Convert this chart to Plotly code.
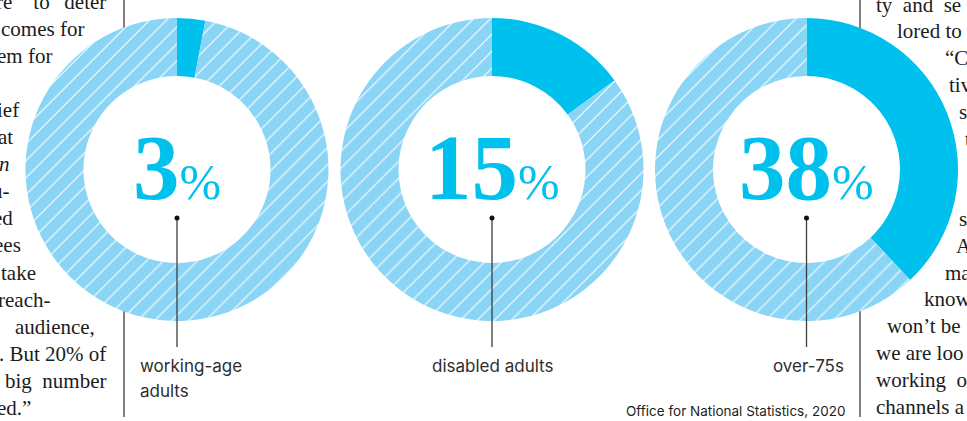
import math
import plotly.graph_objects as go

# ---- data -----------------------------------------------------------------
groups = ["working-age adults", "disabled adults", "over-75s"]
shares = [3, 15, 38]                       # per cent
label_lines = [["working-age", "adults"], ["disabled adults"], ["over-75s"]]
source_note = "Office for National Statistics, 2020"

# running body copy either side of the graphic (one entry per printed line)
left_copy = ["re\u2003to\u2002\u2009deter", "comes for", "em\u00a0for", "",
             "ief", "at", "<i>n</i>", "u-", "ed", "ees", "take", "reach-",
             "audience,", ". But 20% of", "big\u00a0\u00a0number", "ed.\u201d"]
right_copy = ["ty\u00a0\u00a0and\u00a0\u00a0se", "lored to", "\u201cCo", "tiv", "s", "t",
              "", "", "s", "A", "ma", "know", "won\u2019t be", "we are loo",
              "working\u00a0\u00a0o", "channels a"]

# ---- layout constants (pixels) --------------------------------------------
W, H = 967, 421
CYAN = "#00C1EE"
LIGHT = "#8AD5F5"
INK = "#1c1c1c"
RULE = "#3d3d3d"

centers_x = [177, 492, 806.5]
center_y = 169.5
R_OUT = 151.5
R_IN = 93.5

left_ends = [108, 86, 54, 0, 21, 15, 12, 12, 15, 23, 38, 52, 97, 108, 108, 33]
right_starts = [874, 895, 943, 947, 957, 963, 0, 0, 957, 954, 943, 922, 885, 874, 874, 874]
left_base0, left_step = 10, 27.1
right_base0, right_step = 13, 26.8

BODY_FONT = "Liberation Serif"
BODY_SIZE = 21
SANS = "Inter"


def px(x):
    return x / W


def py(y):
    return 1 - y / H


fig = go.Figure()

# ---- donuts ----------------------------------------------------------------
for cx, share, name in zip(centers_x, shares, groups):
    fig.add_trace(go.Pie(
        values=[share, 100 - share],
        labels=[name, "rest"],
        sort=False,
        direction="clockwise",
        rotation=0,
        hole=R_IN / R_OUT,
        textinfo="none",
        hoverinfo="skip",
        showlegend=False,
        marker=dict(
            colors=[CYAN, LIGHT],
            line=dict(width=0),
            pattern=dict(shape=["", "/"], fgcolor=["white", "white"],
                         bgcolor=[CYAN, LIGHT], size=12, solidity=0.09,
                         fillmode="replace"),
        ),
        domain=dict(x=[px(cx - R_OUT), px(cx + R_OUT)],
                    y=[py(center_y + R_OUT), py(center_y - R_OUT)]),
    ))

shapes = []
annotations = []

# ---- column rules (interrupted where a donut sits on them) -----------------
for xr, cx in [(124, centers_x[0]), (860, centers_x[2])]:
    dx = abs(xr - cx)
    half = math.sqrt(R_OUT ** 2 - dx ** 2)
    for y0, y1 in [(0, center_y - half + 2), (center_y + half - 2, 417)]:
        shapes.append(dict(type="line", xref="paper", yref="paper",
                           x0=px(xr), x1=px(xr), y0=py(y0), y1=py(y1),
                           line=dict(color=RULE, width=1.3), layer="below"))

# ---- big figures, leaders and labels ---------------------------------------
NUM_SIZE = 93
PCT_SIZE = 50
NUM_BASE = 200
for i, (cx, share) in enumerate(zip(centers_x, shares)):
    annotations.append(dict(
        xref="paper", yref="paper", x=px(cx), y=py(NUM_BASE + 0.216 * NUM_SIZE + 1),
        xanchor="center", yanchor="bottom", showarrow=False,
        text=f"<b>{share}</b><span style='font-size:{PCT_SIZE}px'>%</span>",
        font=dict(family=BODY_FONT, size=NUM_SIZE, color=CYAN),
    ))
    shapes.append(dict(type="line", xref="paper", yref="paper",
                       x0=px(cx), x1=px(cx), y0=py(218), y1=py(347),
                       line=dict(color=RULE, width=1.3), layer="above"))
    shapes.append(dict(type="circle", xref="paper", yref="paper",
                       x0=px(cx - 2.5), x1=px(cx + 2.5), y0=py(220.5), y1=py(215.5),
                       fillcolor="#111111", line=dict(width=0), layer="above"))

LABEL_SIZE = 17
label_anchor = [("left", 138), ("center", centers_x[1]), ("right", 846)]
for (anchor, lx), lines in zip(label_anchor, label_lines):
    for k, line in enumerate(lines):
        base = 373 + 25 * k
        annotations.append(dict(
            xref="paper", yref="paper", x=px(lx), y=py(base + 0.242 * LABEL_SIZE + 1),
            xanchor=anchor, yanchor="bottom", showarrow=False, text=line,
            font=dict(family=SANS, size=LABEL_SIZE, color="#2e2e2e"),
        ))

annotations.append(dict(
    xref="paper", yref="paper", x=px(847), y=py(417 + 0.242 * 13.5 + 1),
    xanchor="right", yanchor="bottom", showarrow=False, text=source_note,
    font=dict(family=SANS, size=13.5, color="#1e1e1e"),
))

# ---- body copy -------------------------------------------------------------
for k, (line, xe) in enumerate(zip(left_copy, left_ends)):
    if not line:
        continue
    base = left_base0 + left_step * k
    annotations.append(dict(
        xref="paper", yref="paper", x=px(xe), y=py(base + 0.216 * BODY_SIZE + 1),
        xanchor="right", yanchor="bottom", showarrow=False, text=line,
        font=dict(family=BODY_FONT, size=BODY_SIZE, color=INK),
    ))
for k, (line, xs) in enumerate(zip(right_copy, right_starts)):
    if not line:
        continue
    base = right_base0 + right_step * k
    annotations.append(dict(
        xref="paper", yref="paper", x=px(xs), y=py(base + 0.216 * BODY_SIZE + 1),
        xanchor="left", yanchor="bottom", showarrow=False, text=line,
        font=dict(family=BODY_FONT, size=BODY_SIZE, color=INK),
    ))

fig.update_layout(
    width=W, height=H,
    margin=dict(l=0, r=0, t=0, b=0),
    paper_bgcolor="white",
    plot_bgcolor="white",
    showlegend=False,
    shapes=shapes,
    annotations=annotations,
)

fig.write_html("out.html", config={"displayModeBar": False})
